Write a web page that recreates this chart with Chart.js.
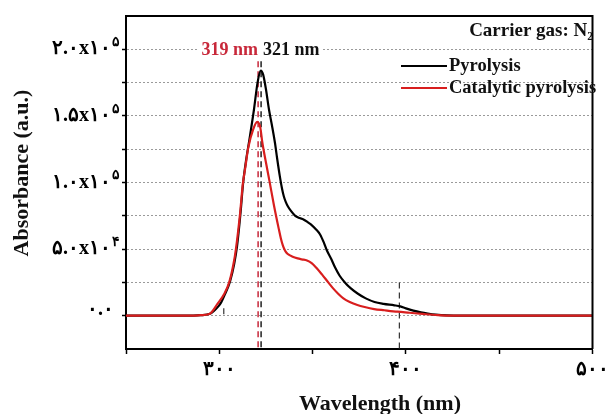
<!DOCTYPE html>
<html>
<head>
<meta charset="utf-8">
<script src="https://cdn.jsdelivr.net/npm/chart.js@4"></script>
<style>
  html, body { margin: 0; padding: 0; background: #fff; }
</style>
</head>
<body>
<canvas id="uvChart" width="613" height="414"></canvas>
<script>
// series data (wavelength nm, absorbance a.u.)
var seriesNames = ['Pyrolysis', 'Catalytic pyrolysis'];
var seriesColors = ['#000000', '#d81e1e'];

var pyroNm  = [250, 280, 286, 290, 295, 299.5, 301, 303, 305.8, 308, 309.5, 311.3, 312.8, 314.5, 316, 318.6, 320.5, 322.2, 323.5, 325, 326.6, 328.2, 329.8, 331, 332.4, 333.6, 334.6, 335.6, 336.8, 338.5, 340.7, 343, 345.1, 347.5, 349.5, 352, 354, 356, 357.5, 360, 362, 364.5, 367.3, 370.5, 374.3, 378.5, 383.2, 388, 393.8, 397, 400, 404, 408, 411.7, 416, 422, 430, 500];
var pyroAbs = [0, 0, 100, 400, 1400, 7000, 10000, 16000, 26000, 39000, 52000, 76000, 100000, 118000, 131000, 155000, 175000, 184000, 181000, 170000, 155000, 143000, 130000, 118000, 105000, 95500, 89500, 85500, 82000, 78500, 75000, 73300, 72300, 70000, 68000, 64500, 61000, 55000, 49500, 42500, 36300, 30000, 25000, 20500, 16500, 13000, 10300, 8900, 7800, 7000, 5500, 3800, 2500, 1600, 800, 200, 0, 0];

var catNm  = [250, 280, 286, 290, 294.7, 299.1, 302.7, 305.3, 307.6, 308.9, 311, 312.7, 313.8, 315.5, 318.2, 320.3, 322, 323, 325, 326.9, 329.2, 331.9, 333, 334, 335, 336, 337.2, 339, 342, 344.2, 347, 349.5, 352, 355, 358.4, 361, 363.7, 366.5, 369.9, 374, 377.9, 383, 388.5, 395.6, 402, 409, 417, 425, 500];
var catAbs = [0, 0, 100, 400, 1300, 9000, 16500, 25000, 38800, 50000, 75000, 100000, 110000, 126000, 140000, 145500, 141000, 130600, 115000, 101000, 83500, 65000, 58000, 53000, 49500, 47300, 45800, 44500, 43000, 42300, 41500, 39500, 36000, 31000, 25000, 20500, 16500, 13000, 10300, 8000, 6500, 5000, 4100, 3000, 2200, 1300, 400, 0, 0];

// axis labels (Persian digits as in the figure)
var xTickLabels = { 300: '۳۰۰', 400: '۴۰۰', 500: '۵۰۰' };
var yTickValues = [0, 50000, 100000, 150000, 200000];
var yTickBase   = ['۰.۰', '۵.۰x۱۰', '۱.۰x۱۰', '۱.۵x۱۰', '۲.۰x۱۰'];
var yTickExp    = ['', '۴', '۵', '۵', '۵'];

// peak markers and guide lines
var peakNm    = [320.8, 322.4];
var peakText  = ['319 nm', '321 nm'];
var peakColor = ['#c8283a', '#222222'];
var guideNm   = [396.5, 302.4];
var guideTop  = [25000, 5500];

var SERIF = "'Liberation Serif', 'Times New Roman', 'DejaVu Serif', serif";

function zip(xs, ys) {
  var out = [];
  for (var i = 0; i < xs.length; i++) out.push({ x: xs[i], y: ys[i] });
  return out;
}

var decor = {
  id: 'decor',
  beforeDatasetsDraw: function(chart) {
    var c = chart.ctx, xs = chart.scales.x, ys = chart.scales.y;
    c.save();
    // white patch behind the peak labels (covers the grid line)
    c.fillStyle = '#fff';
    c.fillRect(199, 38, 124, 18);
    c.lineWidth = 1.5;
    c.setLineDash([6, 4]);
    for (var i = 0; i < peakNm.length; i++) {
      var px = xs.getPixelForValue(peakNm[i]);
      c.strokeStyle = peakColor[i];
      c.beginPath();
      c.moveTo(px, ys.getPixelForValue(191000));
      c.lineTo(px, ys.bottom);
      c.stroke();
    }
    c.strokeStyle = '#333';
    c.lineWidth = 1.2;
    for (var j = 0; j < guideNm.length; j++) {
      var gx = xs.getPixelForValue(guideNm[j]);
      c.beginPath();
      c.moveTo(gx, ys.getPixelForValue(guideTop[j]));
      c.lineTo(gx, j === 0 ? ys.bottom : ys.getPixelForValue(-1500));
      c.stroke();
    }
    c.restore();
  },
  afterDraw: function(chart) {
    var c = chart.ctx, a = chart.chartArea, ys = chart.scales.y;
    c.save();
    // frame top + right
    c.strokeStyle = '#000';
    c.lineWidth = 2;
    c.beginPath();
    c.moveTo(a.left - 1, a.top);
    c.lineTo(a.right, a.top);
    c.lineTo(a.right, a.bottom);
    c.stroke();

    // y tick labels with superscript
    c.fillStyle = '#000';
    c.textBaseline = 'middle';
    c.textAlign = 'right';
    for (var i = 0; i < yTickValues.length; i++) {
      var ty = ys.getPixelForValue(yTickValues[i]);
      var right = 120;
      var w = 0;
      if (yTickExp[i]) {
        c.font = 'bold 14px ' + SERIF;
        w = c.measureText(yTickExp[i]).width;
        c.fillText(yTickExp[i], right, ty - 7);
        c.font = 'bold 20px ' + SERIF;
        c.fillText(yTickBase[i], right - w - 1, ty);
      } else {
        c.font = 'bold 20px ' + SERIF;
        c.fillText(yTickBase[i], 114, ty - 6);
      }
    }

    // peak labels
    c.font = 'bold 18px ' + SERIF;
    c.textBaseline = 'alphabetic';
    c.textAlign = 'right';
    c.fillStyle = peakColor[0];
    c.fillText(peakText[0], 258, 55);
    c.textAlign = 'left';
    c.fillStyle = '#111';
    c.fillText(peakText[1], 263, 55);

    // carrier gas note
    c.textAlign = 'right';
    c.font = 'bold 19px ' + SERIF;
    c.fillText('Carrier gas: N\u2082', 593, 36);

    // legend
    var rows = [[0, 66], [1, 88]];
    c.textAlign = 'left';
    c.textBaseline = 'middle';
    c.font = 'bold 18.5px ' + SERIF;
    for (var r = 0; r < rows.length; r++) {
      var k = rows[r][0], ly = rows[r][1];
      c.strokeStyle = seriesColors[k];
      c.lineWidth = 2;
      c.beginPath();
      c.moveTo(401, ly);
      c.lineTo(447, ly);
      c.stroke();
      c.fillStyle = '#111';
      c.fillText(seriesNames[k], 449, ly);
    }

    // axis titles
    c.font = 'bold 22px ' + SERIF;
    c.textAlign = 'center';
    c.textBaseline = 'middle';
    c.fillStyle = '#111';
    c.fillText('Wavelength (nm)', 380, 404);
    c.translate(22, 173);
    c.rotate(-Math.PI / 2);
    c.fillText('Absorbance (a.u.)', 0, 0);
    c.restore();
  }
};

new Chart(document.getElementById('uvChart'), {
  type: 'line',
  data: {
    datasets: [
      { label: seriesNames[1], data: zip(catNm, catAbs), borderColor: seriesColors[1],
        borderWidth: 2.2, pointRadius: 0, cubicInterpolationMode: 'monotone', order: 0 },
      { label: seriesNames[0], data: zip(pyroNm, pyroAbs), borderColor: seriesColors[0],
        borderWidth: 2.2, pointRadius: 0, cubicInterpolationMode: 'monotone', order: 1 }
    ]
  },
  options: {
    responsive: false,
    animation: false,
    devicePixelRatio: 1,
    layout: { padding: { left: 0, right: 16, top: 16, bottom: 0 } },
    plugins: { legend: { display: false }, tooltip: { enabled: false } },
    scales: {
      x: {
        type: 'linear', min: 250, max: 500,
        ticks: {
          stepSize: 50, autoSkip: false, maxRotation: 0, padding: 4, color: '#000',
          font: { family: SERIF, size: 20, weight: 'bold' },
          callback: function(v) { return xTickLabels[v] || ''; }
        },
        grid: { drawOnChartArea: false, tickLength: 5, tickColor: '#000', tickWidth: 1.5 },
        border: { color: '#000', width: 2 },
        afterFit: function(s) { s.height = 65; }
      },
      y: {
        min: -25000, max: 225000,
        ticks: { stepSize: 25000, callback: function() { return ''; } },
        grid: {
          lineWidth: 1,
          color: function(ctx) {
            var v = ctx.tick && ctx.tick.value;
            return (v >= 0 && v <= 200000) ? '#9a9a9a' : 'rgba(0,0,0,0)';
          },
          tickColor: function(ctx) {
            var v = ctx.tick && ctx.tick.value;
            return (v >= 0 && v <= 200000) ? '#000' : 'rgba(0,0,0,0)';
          },
          tickLength: 4, tickWidth: 1.5
        },
        border: { color: '#000', width: 2, dash: [2, 2] },
        afterFit: function(s) { s.width = 126; }
      }
    }
  },
  plugins: [decor]
});
</script>
</body>
</html>
